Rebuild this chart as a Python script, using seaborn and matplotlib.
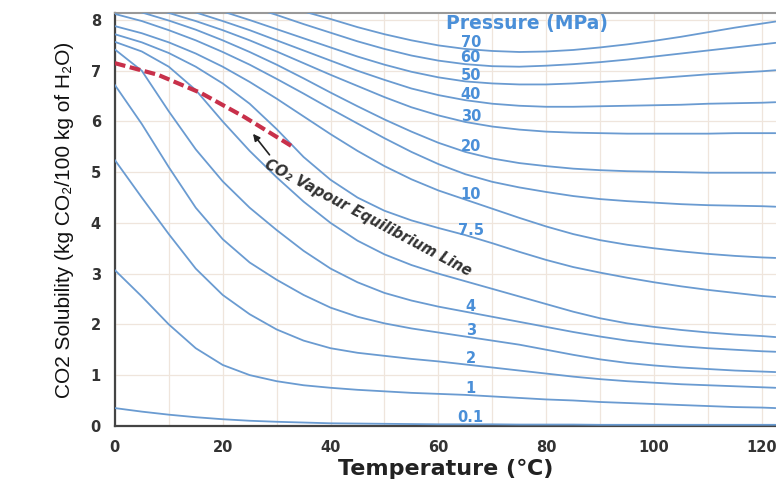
import numpy as np
import pandas as pd
import matplotlib.pyplot as plt
import seaborn as sns

sns.set_style("white")
plt.rcParams['font.family'] = ['DejaVu Sans']

# temperature grid (deg C)
temps = [0, 5, 10, 15, 20, 25, 30, 35, 40, 45, 50, 55, 60, 65, 70, 75,
         80, 85, 90, 95, 100, 105, 110, 115, 120, 122.5]

# CO2 solubility (kg CO2 / 100 kg H2O) for each pressure curve
sol_p70 = [9.3, 9.15, 9.0, 8.85, 8.68, 8.5, 8.33, 8.17, 8.02, 7.86, 7.72, 7.6, 7.5,
           7.43, 7.39, 7.37, 7.38, 7.41, 7.46, 7.52, 7.59, 7.67, 7.76, 7.85, 7.93, 7.97]
sol_p60 = [9.0, 8.88, 8.75, 8.6, 8.44, 8.27, 8.1, 7.92, 7.75, 7.58, 7.43, 7.3, 7.2,
           7.13, 7.09, 7.08, 7.1, 7.13, 7.17, 7.22, 7.28, 7.34, 7.4, 7.46, 7.52, 7.55]
sol_p50 = [8.75, 8.62, 8.48, 8.33, 8.17, 8.0, 7.82, 7.64, 7.46, 7.28, 7.12, 6.98, 6.87,
           6.79, 6.75, 6.73, 6.73, 6.75, 6.78, 6.81, 6.85, 6.89, 6.93, 6.96, 6.99, 7.01]
sol_p40 = [8.55, 8.43, 8.3, 8.15, 7.98, 7.8, 7.6, 7.4, 7.2, 7.0, 6.82, 6.65, 6.52,
           6.42, 6.35, 6.31, 6.29, 6.29, 6.3, 6.31, 6.32, 6.33, 6.35, 6.36, 6.37, 6.38]
sol_p30 = [8.4, 8.28, 8.14, 7.98, 7.8, 7.6, 7.38, 7.15, 6.92, 6.7, 6.48, 6.28, 6.12,
           5.99, 5.9, 5.84, 5.8, 5.78, 5.77, 5.76, 5.76, 5.76, 5.76, 5.77, 5.77, 5.77]
sol_p20 = [8.28, 8.15, 7.99, 7.81, 7.6, 7.37, 7.12, 6.85, 6.57, 6.3, 6.04, 5.8, 5.58,
           5.4, 5.27, 5.18, 5.12, 5.07, 5.04, 5.02, 5.01, 5.0, 4.99, 4.99, 4.99, 4.99]
sol_p15 = [8.12, 7.98, 7.8, 7.6, 7.37, 7.12, 6.84, 6.55, 6.25, 5.96, 5.67, 5.4, 5.16,
           4.96, 4.81, 4.7, 4.61, 4.53, 4.47, 4.43, 4.4, 4.37, 4.35, 4.34, 4.33, 4.32]
sol_p10 = [7.88, 7.74, 7.56, 7.34, 7.08, 6.78, 6.45, 6.1, 5.75, 5.42, 5.12, 4.86, 4.64,
           4.46, 4.28, 4.1, 3.93, 3.78, 3.66, 3.57, 3.5, 3.44, 3.39, 3.35, 3.32, 3.31]
sol_p7_5 = [7.72, 7.56, 7.35, 7.08, 6.75, 6.35, 5.85, 5.3, 4.85, 4.5, 4.24, 4.05, 3.9,
            3.76, 3.6, 3.43, 3.27, 3.13, 3.02, 2.92, 2.83, 2.75, 2.68, 2.62, 2.56, 2.54]
sol_p5 = [7.57, 7.38, 7.08, 6.62, 6.0, 5.42, 4.9, 4.42, 4.0, 3.65, 3.38, 3.17, 3.0,
          2.85, 2.7, 2.55, 2.4, 2.25, 2.12, 2.02, 1.95, 1.89, 1.84, 1.8, 1.77, 1.75]
sol_p4 = [7.42, 7.0, 6.2, 5.45, 4.82, 4.3, 3.86, 3.45, 3.1, 2.83, 2.62, 2.47, 2.35,
          2.25, 2.15, 2.05, 1.95, 1.85, 1.76, 1.68, 1.62, 1.57, 1.53, 1.5, 1.47, 1.46]
sol_p3 = [6.72, 5.95, 5.1, 4.3, 3.68, 3.22, 2.88, 2.58, 2.33, 2.15, 2.02, 1.92, 1.84,
          1.76, 1.68, 1.6, 1.5, 1.4, 1.31, 1.24, 1.19, 1.15, 1.12, 1.09, 1.07, 1.06]
sol_p2 = [5.24, 4.5, 3.78, 3.1, 2.58, 2.2, 1.9, 1.68, 1.53, 1.44, 1.38, 1.32, 1.27,
          1.21, 1.15, 1.09, 1.03, 0.97, 0.92, 0.88, 0.85, 0.82, 0.8, 0.78, 0.76, 0.75]
sol_p1 = [3.07, 2.55, 2.0, 1.53, 1.2, 1.0, 0.88, 0.8, 0.75, 0.71, 0.68, 0.65, 0.63,
          0.61, 0.58, 0.55, 0.52, 0.5, 0.47, 0.45, 0.43, 0.41, 0.39, 0.37, 0.36, 0.35]
sol_p0_1 = [0.35, 0.28, 0.22, 0.17, 0.13, 0.1, 0.08, 0.065, 0.05, 0.045, 0.04, 0.035, 0.03,
            0.03, 0.03, 0.025, 0.025, 0.025, 0.02, 0.02, 0.02, 0.02, 0.02, 0.02, 0.02, 0.02]

pressures = ["70", "60", "50", "40", "30", "20", "15", "10", "7.5", "5", "4", "3", "2", "1", "0.1"]
curves = [sol_p70, sol_p60, sol_p50, sol_p40, sol_p30, sol_p20, sol_p15, sol_p10,
          sol_p7_5, sol_p5, sol_p4, sol_p3, sol_p2, sol_p1, sol_p0_1]
labelled = ["70", "60", "50", "40", "30", "20", "10", "7.5", "4", "3", "2", "1", "0.1"]

# CO2 vapour equilibrium line
vle_temps = [0, 8, 16, 24, 33]
vle_sol = [7.15, 6.92, 6.56, 6.09, 5.5]

rows = []
for p, vals in zip(pressures, curves):
    for t, s in zip(temps, vals):
        rows.append({"T": t, "S": s, "P": p})
df = pd.DataFrame(rows)

line_blue = "#6a9bd1"
label_blue = "#4a8fd8"

fig = plt.figure(figsize=(7.76, 4.79), dpi=100)
ax = fig.add_axes([0.148, 0.111, 0.852, 0.862])

sns.lineplot(data=df, x="T", y="S", hue="P", hue_order=pressures,
             palette=[line_blue] * len(pressures), estimator=None,
             linewidth=1.3, legend=False, ax=ax, zorder=3)

sns.lineplot(x=vle_temps, y=vle_sol, color="#c8304a", linewidth=3,
             ax=ax, zorder=4)
ax.lines[-1].set_dashes((2.6, 1.1))

# pressure labels sit just above each curve at ~66 C
for p, vals in zip(pressures, curves):
    if p in labelled:
        yv = np.interp(66, temps, vals) + 0.13
        ax.text(66, max(yv, 0.16), p, color=label_blue, fontsize=10.5,
                fontweight="bold", ha="center", va="center", zorder=5)

ax.text(76.5, 7.93, "Pressure (MPa)", color=label_blue, fontsize=13.5,
        fontweight="bold", ha="center", va="center", zorder=5)

ax.annotate("", xy=(25.3, 5.8), xytext=(29, 5.3),
            arrowprops=dict(arrowstyle="-|>", color="#222", lw=1.2,
                            mutation_scale=10), zorder=6)
ax.text(28.6, 5.3, "CO\u2082 Vapour Equilibrium Line", rotation=-28,
        rotation_mode="anchor", ha="left", va="top", fontsize=10.5,
        fontstyle="italic", fontweight="bold", color="#333", zorder=6)

ax.set_xlim(0, 122.6)
ax.set_ylim(0, 8.14)
ax.set_xticks(range(0, 121, 20))
ax.set_xticks(range(10, 121, 20), minor=True)
ax.set_yticks(range(0, 9))

ax.grid(True, which="both", axis="x", color="#efe5dc", lw=0.9, zorder=0)
ax.grid(True, which="major", axis="y", color="#efe5dc", lw=0.9, zorder=0)

ax.tick_params(axis="both", which="major", direction="out", length=6,
               width=1.3, color="#444", labelsize=10.5, labelcolor="#333", pad=4)
ax.tick_params(axis="x", which="minor", direction="out", length=4,
               width=1.3, color="#444")
for lab in ax.get_xticklabels() + ax.get_yticklabels():
    lab.set_fontweight("bold")

for side in ["left", "bottom"]:
    ax.spines[side].set_color("#444")
    ax.spines[side].set_linewidth(1.6)
ax.spines["top"].set_color("#999")
ax.spines["top"].set_linewidth(1.5)
ax.spines["right"].set_visible(False)

ax.set_xlabel("Temperature (\u2103)", fontsize=16, fontweight="bold",
              color="#222", labelpad=3)
ax.set_ylabel("CO2 Solubility (kg CO\u2082/100 kg of H\u2082O)", fontsize=15,
              color="#111", labelpad=12,
              family=["Liberation Sans Narrow", "Liberation Sans", "DejaVu Sans"])

fig.savefig("out.png", dpi=100)
